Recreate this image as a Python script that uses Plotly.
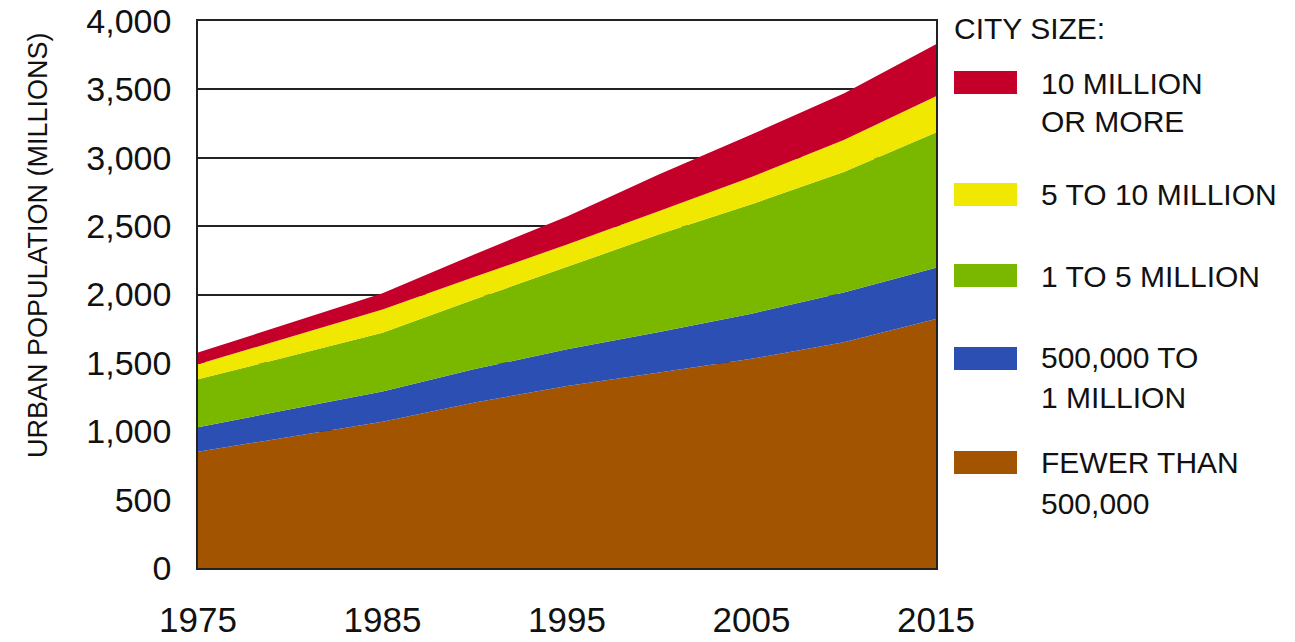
import plotly.graph_objects as go

years = [1975, 1980, 1985, 1990, 1995, 2000, 2005, 2010, 2015]
fewer_than_500k = [850, 960, 1070, 1210, 1330, 1430, 1530, 1650, 1820]
from_500k_to_1m = [180, 200, 220, 245, 270, 295, 330, 365, 375]
from_1m_to_5m = [350, 390, 430, 510, 605, 715, 800, 880, 990]
from_5m_to_10m = [110, 140, 170, 165, 160, 170, 200, 235, 265]
over_10m = [85, 100, 120, 165, 205, 270, 310, 340, 380]

series_names = ["FEWER THAN 500,000", "500,000 TO 1 MILLION", "1 TO 5 MILLION",
                "5 TO 10 MILLION", "10 MILLION OR MORE"]
series_values = [fewer_than_500k, from_500k_to_1m, from_1m_to_5m, from_5m_to_10m, over_10m]
series_colors = ["#A35400", "#2B4FB3", "#7AB800", "#F0E800", "#C4002A"]

legend_order = [4, 3, 2, 1, 0]
legend_lines = [["10 MILLION", "OR MORE"], ["5 TO 10 MILLION"], ["1 TO 5 MILLION"],
                ["500,000 TO", "1 MILLION"], ["FEWER THAN", "500,000"]]

x_ticks = [1975, 1985, 1995, 2005, 2015]
y_ticks = [0, 500, 1000, 1500, 2000, 2500, 3000, 3500, 4000]

W, H = 1295, 642
OFF = 0  # page body margin removed via post_script
# plot area in screenshot pixels
SX0, SX1, SY0, SY1 = 198, 936, 21, 568
PW, PH = SX1 - SX0, SY1 - SY0
L, T = SX0 - OFF, SY0 - OFF
R, B = W - L - PW, H - T - PH


def px(x):
    return (x - SX0) / PW


def py(y):
    return (SY1 - y) / PH


fig = go.Figure()
for name, vals, col in zip(series_names, series_values, series_colors):
    fig.add_trace(go.Scatter(
        x=years, y=vals, name=name, stackgroup="one", mode="lines",
        line=dict(width=0, color=col), fillcolor=col, showlegend=False,
        hoverinfo="x+y+name"))

FONT = "Liberation Sans, Arial, sans-serif"
shapes = []
annotations = []

annotations.append(dict(x=px(952), y=py(28), xref="paper", yref="paper",
                        text="CITY SIZE:", showarrow=False, xanchor="left",
                        yanchor="middle", font=dict(family=FONT, size=30, color="#111")))

sw_tops = [71, 183, 264, 347, 451]
text_centers = [[83, 122], [195], [276], [357, 397], [462, 503]]
for idx, top, lines, centers in zip(legend_order, sw_tops, legend_lines, text_centers):
    shapes.append(dict(type="rect", xref="paper", yref="paper",
                       x0=px(954), x1=px(1017), y0=py(top), y1=py(top + 23),
                       fillcolor=series_colors[idx], line=dict(width=0)))
    for line_text, cy in zip(lines, centers):
        annotations.append(dict(x=px(1039), y=py(cy), xref="paper", yref="paper",
                                text=line_text, showarrow=False, xanchor="left",
                                yanchor="middle",
                                font=dict(family=FONT, size=30, color="#111")))

annotations.append(dict(x=px(38), y=py(245), xref="paper", yref="paper",
                        text="URBAN POPULATION (MILLIONS)", showarrow=False,
                        textangle=-90, xanchor="center", yanchor="middle",
                        font=dict(family=FONT, size=27, color="#111")))

fig.update_layout(
    width=W, height=H,
    margin=dict(l=L, r=R, t=T, b=B, pad=0, autoexpand=False),
    paper_bgcolor="white", plot_bgcolor="white",
    font=dict(family=FONT, color="#111"),
    shapes=shapes, annotations=annotations,
    showlegend=False,
    xaxis=dict(range=[1975, 2015], tickvals=x_ticks, ticktext=[str(v) for v in x_ticks],
               showgrid=False, showline=True, mirror=True, linecolor="#222",
               linewidth=1.5, ticks="", zeroline=False, automargin=False,
               ticklabeloverflow="allow",
               tickfont=dict(family=FONT, size=35, color="#111"),
               ticklabelstandoff=20),
    yaxis=dict(range=[0, 4000], tickvals=y_ticks, tickformat=",",
               showgrid=True, gridcolor="#222", gridwidth=1.5,
               showline=True, mirror=True, linecolor="#222", linewidth=1.5,
               ticks="", zeroline=False, automargin=False,
               ticklabeloverflow="allow",
               tickfont=dict(family=FONT, size=34, color="#111"),
               ticklabelstandoff=18),
)

fig.write_html("out.html",
               config={"displayModeBar": False},
               post_script="document.body.style.margin='0px';document.body.style.overflow='hidden';")
